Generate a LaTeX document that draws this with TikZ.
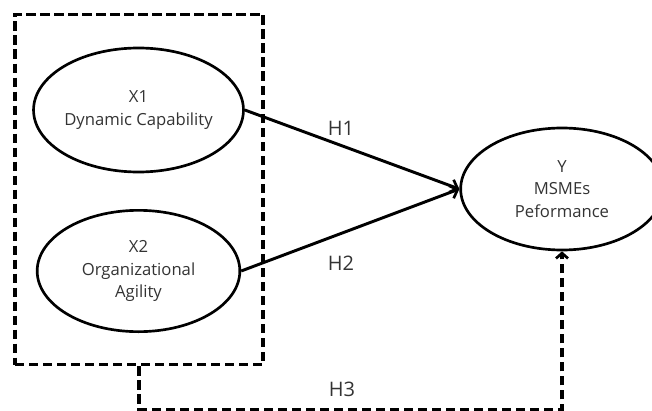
\documentclass[tikz,border=0pt]{standalone}
\usepackage{fontspec}
\setmainfont{Open Sans}
\usetikzlibrary{shapes.geometric,arrows.meta,calc}
\begin{document}
\begin{tikzpicture}[x=0.75pt,y=-0.75pt,
  latent/.style={draw,ellipse,line width=2pt,inner sep=0pt,align=center,
    font=\fontsize{12.5}{17}\selectfont,text=black!80},
  dashbox/.style={draw,line width=2.4pt,dash pattern=on 7pt off 3.5pt,inner sep=0pt},
  solidarrow/.style={line width=2.2pt,-{Straight Barb[length=5pt,width=10pt,line width=2pt]}},
  dasharrow/.style={line width=2.4pt,dash pattern=on 7pt off 3.5pt,
    -{Straight Barb[length=4pt,width=9pt,line width=2pt]}},
  hlabel/.style={font=\fontsize{15}{18}\selectfont,text=black!80}]
\useasboundingbox (0,0) rectangle (652,410);
\begin{scope}
\clip (0,0) rectangle (652,410);
\node (box) [dashbox,minimum width=186pt,minimum height=263pt] at (139,189.5) {};
\node (x1) [latent,minimum width=152pt,minimum height=93pt] at (138.5,110) {X1\\Dynamic Capability};
\node (x2) [latent,minimum width=152pt,minimum height=91pt] at (138.5,271) {X2\\Organizational\\Agility};
\node (y) [latent,minimum width=152pt,minimum height=91.5pt] at (562,189) {Y\\MSMEs\\Peformance};
\draw[solidarrow] (x1.east) -- (y.west);
\draw[solidarrow] (x2.east) -- (y.west);
\coordinate (h3turn) at ($(box.south)+(0,43)$);
\draw[dasharrow] (box.south) -- (h3turn) -| (y.south);
\node (h1) [hlabel] at (341,128) {H1};
\node (h2) [hlabel] at (341,263) {H2};
\node (h3) [hlabel] at (342,389) {H3};
\end{scope}
\end{tikzpicture}
\end{document}
